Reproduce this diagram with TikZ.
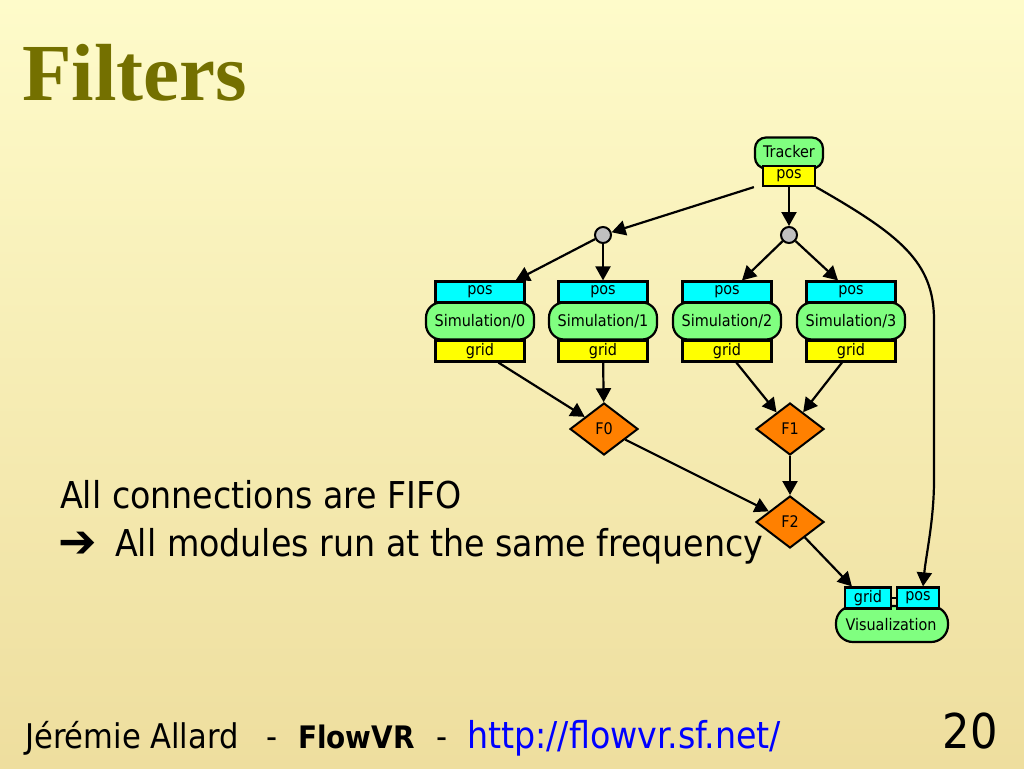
\documentclass[tikz,border=0pt]{standalone}
\usepackage{fontspec}
\usetikzlibrary{arrows.meta,shapes.geometric,calc}
\newfontfamily\bodyfont{DejaVu Sans Condensed}
\newfontfamily\titlefont{Liberation Serif}
\newfontfamily\symfont{DejaVu Sans}
\definecolor{bgtop}{RGB}{254,251,202}
\definecolor{bgbot}{RGB}{238,222,158}
\definecolor{titlecol}{RGB}{116,112,0}
\definecolor{modgreen}{RGB}{128,255,128}
\definecolor{portcyan}{RGB}{0,255,255}
\definecolor{portyellow}{RGB}{255,255,0}
\definecolor{filtorange}{RGB}{255,128,0}
\definecolor{joingrey}{RGB}{192,192,192}
\definecolor{linkblue}{RGB}{0,0,255}
\begin{document}
\begin{tikzpicture}[x=1pt,y=-1pt,
  diagfont/.style={font=\bodyfont\fontsize{16}{18}\selectfont},
  port/.style={draw, line width=2.2pt, minimum height=21pt, inner sep=0pt, diagfont},
  posport/.style={port, fill=portcyan, minimum width=89pt},
  gridport/.style={port, fill=portyellow, minimum width=89pt},
  module/.style={draw, line width=2.2pt, fill=modgreen, rounded corners=15pt, minimum height=37pt, minimum width=108pt, inner sep=0pt, diagfont},
  joiner/.style={circle, draw, line width=2pt, fill=joingrey, minimum size=16pt, inner sep=0pt},
  filt/.style={diamond, draw, line width=2pt, fill=filtorange, minimum width=68pt, minimum height=52pt, inner sep=0pt, diagfont},
  link/.style={line width=2.2pt, -{Triangle[length=14pt,width=15pt]}},
  bigtext/.style={anchor=base west, inner sep=0pt, font=\bodyfont\fontsize{37}{42}\selectfont},
  foot/.style={anchor=base west, inner sep=0pt, font=\bodyfont\fontsize{34}{38}\selectfont}
]
\useasboundingbox (0,0) rectangle (1024,768);
\shade[top color=bgtop, bottom color=bgbot] (0,0) rectangle (1024,768);

% title
\node[anchor=base west, inner sep=0pt, text=titlecol, font=\titlefont\bfseries\fontsize{81}{90}\selectfont] (title) at (22,100) {Filters};

% body text
\node[bigtext] (line1) at (60,508) {All connections are FIFO};
\node[bigtext, font=\symfont\bfseries\fontsize{46}{50}\selectfont] (arrowmark) at (58,557) {➔};
\node[bigtext] (line2) at (115,556) {All modules run at the same frequency};

% footer
\node[foot] (author) at (25,748) {Jérémie Allard};
\node[foot] (dash1) at (266,748) {-};
\node[foot, font=\bodyfont\bfseries\fontsize{31}{36}\selectfont] (flowvr) at (298,748) {FlowVR};
\node[foot] (dash2) at (436,748) {-};
\node[foot, text=linkblue, font=\bodyfont\fontsize{37}{40}\selectfont] (url) at (467,748) {http://flowvr.sf.net/};
\node[anchor=base east, inner sep=0pt, font=\bodyfont\fontsize{48}{54}\selectfont] (pagenum) at (998,748) {20};

% tracker
\node[module, minimum width=68pt, minimum height=31pt, rounded corners=11pt] (tracker) at (789,153) {};
\node[diagfont] at (789,152) {Tracker};
\node[port, fill=portyellow, minimum width=52pt, minimum height=20pt] (trackerpos) at (789,176) {pos};

% joiners
\node[joiner] (c0) at (603,235) {};
\node[joiner] (c1) at (789,235) {};

% simulations
\foreach \i/\x in {0/480,1/603,2/727,3/851}{
  \node[module] (sim\i) at (\x,321) {Simulation/\i};
  \node[posport] (sim\i pos) at (\x,292) {pos};
  \node[gridport] (sim\i grid) at (\x,351) {grid};
}

% filters
\node[filt] (f0) at (604,429) {F0};
\node[filt] (f1) at (790,429) {F1};
\node[filt] (f2) at (790,522) {F2};

% visualization
\node[module, minimum width=112pt, minimum height=36pt, rounded corners=17pt] (vis) at (892,624) {};
\node[diagfont] at (891,625) {Visualization};
\node[port, fill=portcyan, minimum width=46pt] (visgrid) at (868,598) {grid};
\node[port, fill=portcyan, minimum width=42pt] (vispos) at (918,598) {pos};
\draw[line width=2pt] (visgrid.east) -- (vispos.west);

% links
\draw[link] ($(trackerpos.south west)+(-8,0)$) -- (c0);
\draw[link] (trackerpos) -- (c1);
\draw[link] (c0) -- ($(sim0pos.north east)+(-10,0)$);
\draw[link] (c0) -- (sim1pos);
\draw[link] (c1) -- ($(sim2pos.north)+(15,0)$);
\draw[link] (c1) -- ($(sim3pos.north)+(-13,0)$);
\draw[link] (sim0grid) -- (f0);
\draw[link] (sim1grid) -- (f0);
\draw[link] (sim2grid) -- (f1);
\draw[link] (sim3grid) -- (f1);
\draw[link] (f0) -- (f2);
\draw[link] (f1) -- (f2);
\draw[link] (f2) -- ($(visgrid.north west)+(8,0)$);
\draw[link] (trackerpos.south east) .. controls (900,235) and (934,262) .. (934,320) -- (934,480) .. controls (934,520) and (926,555) .. ($(vispos.north)+(5,0)$);
\end{tikzpicture}
\end{document}
